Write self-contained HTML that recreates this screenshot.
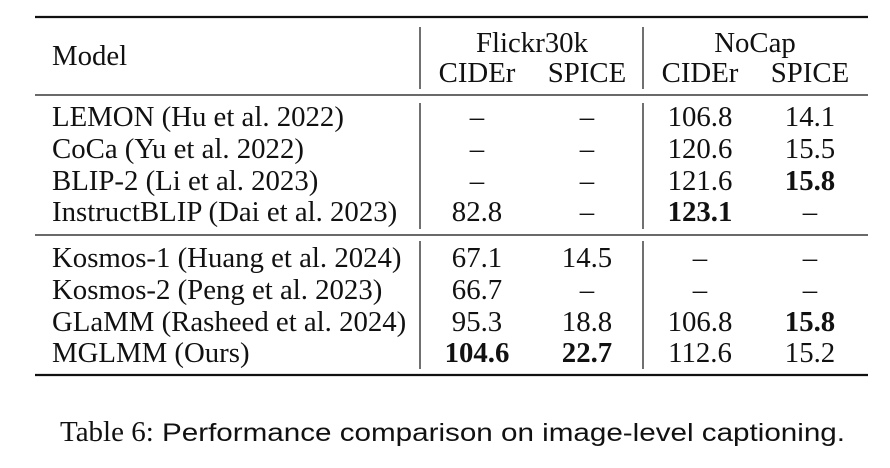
<!DOCTYPE html>
<html><head><meta charset="utf-8"><style>
html,body{margin:0;padding:0;background:#fff;width:890px;height:468px;overflow:hidden}
svg{display:block}
text{font-family:"Liberation Serif",serif;font-size:28.8px;fill:#111}
.b{font-weight:bold}
</style></head><body>
<svg width="890" height="468">
<g stroke="#111">
<line x1="35" y1="17" x2="868" y2="17" stroke-width="2.2"/>
<line x1="35" y1="95" x2="868" y2="95" stroke-width="1.3"/>
<line x1="35" y1="235" x2="868" y2="235" stroke-width="1.3"/>
<line x1="35" y1="375" x2="868" y2="375" stroke-width="2.2"/>
<line x1="420" y1="27" x2="420" y2="89" stroke-width="1.2"/>
<line x1="420" y1="103" x2="420" y2="229" stroke-width="1.2"/>
<line x1="420" y1="241" x2="420" y2="369" stroke-width="1.2"/>
<line x1="643" y1="27" x2="643" y2="89" stroke-width="1.2"/>
<line x1="643" y1="103" x2="643" y2="229" stroke-width="1.2"/>
<line x1="643" y1="241" x2="643" y2="369" stroke-width="1.2"/>
</g>
<g>
<text x="52" y="65">Model</text>
<text x="532" y="52" text-anchor="middle">Flickr30k</text>
<text x="755" y="52" text-anchor="middle">NoCap</text>
<text x="477" y="82" text-anchor="middle">CIDEr</text>
<text x="587" y="82" text-anchor="middle">SPICE</text>
<text x="700" y="82" text-anchor="middle">CIDEr</text>
<text x="810" y="82" text-anchor="middle">SPICE</text>
</g>
<g id="body"></g>
<text x="60" y="441" style="font-size:29px">Table 6:<tspan style='font-family:"Liberation Sans",sans-serif;font-size:25px' x="162" textLength="683" lengthAdjust="spacingAndGlyphs">Performance comparison on image-level captioning.</tspan></text>
</svg>
<script>
const models=["LEMON (Hu et al. 2022)","CoCa (Yu et al. 2022)","BLIP-2 (Li et al. 2023)","InstructBLIP (Dai et al. 2023)","Kosmos-1 (Huang et al. 2024)","Kosmos-2 (Peng et al. 2023)","GLaMM (Rasheed et al. 2024)","MGLMM (Ours)"];
const flickrCider=["–","–","–","82.8","67.1","66.7","95.3","104.6"];
const flickrSpice=["–","–","–","–","14.5","–","18.8","22.7"];
const nocapCider=["106.8","120.6","121.6","123.1","–","–","106.8","112.6"];
const nocapSpice=["14.1","15.5","15.8","–","–","–","15.8","15.2"];
const boldCells=[[2,3],[3,2],[6,3],[7,0],[7,1]];
const baselines=[126,158,190,221,267,299,331,362];
const colX=[477,587,700,810];
const g=document.getElementById('body');
const ns="http://www.w3.org/2000/svg";
models.forEach((m,i)=>{
  const t=document.createElementNS(ns,'text');
  t.setAttribute('x',52);t.setAttribute('y',baselines[i]);t.textContent=m;
  
  
  g.appendChild(t);
  [flickrCider,flickrSpice,nocapCider,nocapSpice].forEach((arr,j)=>{
    const c=document.createElementNS(ns,'text');
    c.setAttribute('x',colX[j]);c.setAttribute('y',baselines[i]);
    c.setAttribute('text-anchor','middle');
    if(boldCells.some(b=>b[0]===i&&b[1]===j))c.setAttribute('class','b');
    c.textContent=arr[i];
    
    
    g.appendChild(c);
  });
});
</script>
</body></html>
